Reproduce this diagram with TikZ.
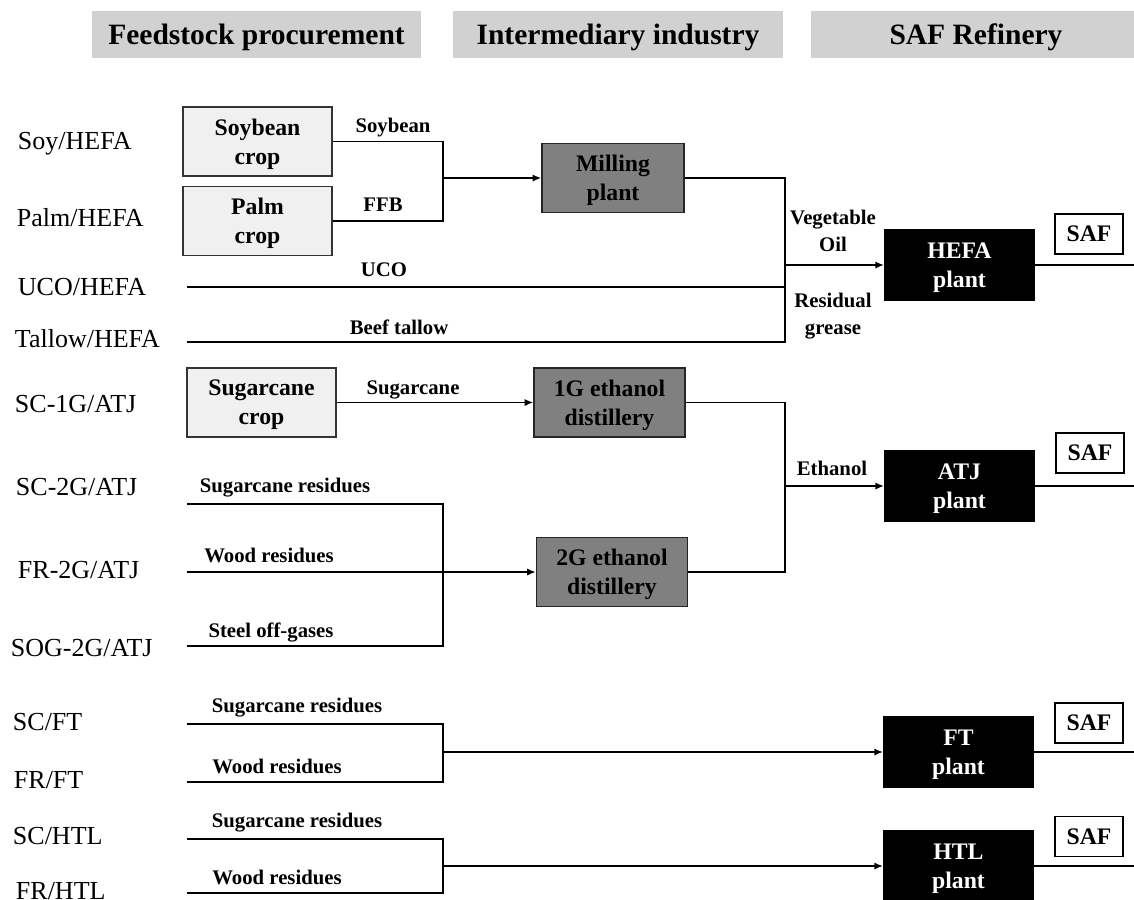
\documentclass[tikz,border=0pt]{standalone}
\usepackage{fontspec}
\setmainfont{Liberation Serif}
\definecolor{hd}{rgb}{0.82,0.82,0.82}
\definecolor{lt}{rgb}{0.94,0.94,0.94}
\definecolor{md}{rgb}{0.5,0.5,0.5}
\usetikzlibrary{positioning,arrows.meta,calc}
\newcommand{\headfont}{\fontsize{16.8}{20}\selectfont\bfseries}
\newcommand{\boxfont}{\fontsize{13.5}{16.5}\selectfont\bfseries}
\newcommand{\flowfont}{\fontsize{11.8}{15.4}\selectfont\bfseries}
\newcommand{\rowfont}{\fontsize{14.8}{17}\selectfont}

\begin{document}
\begin{tikzpicture}[x=0.02cm,y=-0.02cm,>={Latex[length=5pt,width=4.2pt]},line width=1.1pt,
  hdr/.style={fill=hd,minimum width=6.6cm,minimum height=0.94cm,text depth=0pt,font=\headfont},
  cropbox/.style={draw=black!80,line width=0.8pt,fill=lt,minimum width=2.98cm,minimum height=1.38cm,text depth=0pt,align=center,font=\boxfont},
  mids/.style={draw=black!85,line width=0.8pt,fill=md,minimum width=3.02cm,minimum height=1.38cm,text depth=0pt,align=center,font=\boxfont},
  refbox/.style={draw,fill=black,text=white,minimum width=2.98cm,minimum height=1.4cm,text depth=0pt,align=center,font=\boxfont},
  safbox/.style={draw,line width=0.8pt,minimum width=1.36cm,minimum height=0.8cm,font=\boxfont},
  flow/.style={font=\flowfont,align=center,inner sep=0pt,text depth=0pt},
  pathway/.style={anchor=west,inner sep=0pt,font=\rowfont}]
\clip (0,0) rectangle (1134,900);

\node [hdr,minimum width=6.58cm] (hfeed) at (256.5,34.5) {Feedstock procurement};
\node [hdr] (hint) at (618,34.5) {Intermediary industry};
\node [hdr] (hsaf) at (976,34.5) {SAF Refinery};

\node [pathway] (rsoy) at (17,144) {Soy/HEFA};
\node [pathway] (rpalm) at (16,218) {Palm/HEFA};
\node [pathway] (ruco) at (17,287) {UCO/HEFA};
\node [pathway] (rtal) at (14,339) {Tallow/HEFA};
\node [pathway] (rsc1) at (14,404) {SC-1G/ATJ};
\node [pathway] (rsc2) at (15,487) {SC-2G/ATJ};
\node [pathway] (rfr2) at (17,570) {FR-2G/ATJ};
\node [pathway] (rsog) at (10,648) {SOG-2G/ATJ};
\node [pathway] (rscft) at (12,722) {SC/FT};
\node [pathway] (rfrft) at (13,780) {FR/FT};
\node [pathway] (rschtl) at (12,836) {SC/HTL};
\node [pathway] (rfrhtl) at (15,891) {FR/HTL};

\node [cropbox] (soyc) at (257.5,141.5) {Soybean\\crop};
\node [cropbox] (palmc) at (257.5,221) {Palm\\crop};
\node [cropbox] (scc) at (261.5,402.5) {Sugarcane\\crop};

\node [mids,minimum width=2.84cm] (mill) at (613,178) {Milling\\plant};
\node [mids] (dist1) at (609.5,402.5) {1G ethanol\\distillery};
\node [mids] (dist2) at (612,572) {2G ethanol\\distillery};

\node [refbox] (hefa) at (959.5,265) {HEFA\\plant};
\node [refbox] (atj) at (959.5,486) {ATJ\\plant};
\node [refbox] (ft) at (958.5,752) {FT\\plant};
\node [refbox] (htl) at (958.5,866) {HTL\\plant};

\node [safbox] (saf1) at (1089,234) {SAF};
\node [safbox] (saf2) at (1090,453) {SAF};
\node [safbox] (saf3) at (1089,723) {SAF};
\node [safbox] (saf4) at (1089,836.5) {SAF};

\coordinate (uco0) at (187,287);
\coordinate (tal0) at (187,342);
\coordinate (scr0) at (187,504);
\coordinate (wr0) at (187,572);
\coordinate (sog0) at (187,646);
\coordinate (ftsc) at (187,724);
\coordinate (ftwr) at (187,782);
\coordinate (htsc) at (187,839);
\coordinate (htwr) at (187,893);
\coordinate (j1) at (443,178);
\coordinate (j2) at (785,265);
\coordinate (j3) at (785,486);
\coordinate (j4) at (443,572);
\coordinate (j5) at (443,752);
\coordinate (j6) at (443,866);
\coordinate (rim) at (1134,0);

\draw (soyc.east) -| (j1);  \draw (palmc.east) -| (j1);
\draw [->] (j1) -- (mill);
\draw (mill.east) -| (j2);
\draw (uco0) -- (uco0 -| j2);
\draw (tal0) -| (j2);
\draw [->] (j2) -- (hefa);
\draw [->] (scc) -- (dist1);
\draw (scr0) -| (j4);  \draw (sog0) -| (j4);
\draw [->] (wr0) -- (dist2);
\draw (dist1.east) -| (j3);  \draw (dist2.east) -| (j3);
\draw [->] (j3) -- (atj);
\draw (ftsc) -| (j5);  \draw (ftwr) -| (j5);
\draw [->] (j5) -- (ft);
\draw (htsc) -| (j6);  \draw (htwr) -| (j6);
\draw [->] (j6) -- (htl);
\draw (hefa.east) -- (hefa.east -| rim);
\draw (atj.east) -- (atj.east -| rim);
\draw (ft.east) -- (ft.east -| rim);
\draw (htl.east) -- (htl.east -| rim);

\node [flow] (lsoy) at (393,125) {Soybean};
\node [flow] (lffb) at (383,205) {FFB};
\node [flow] (luco) at (384,270) {UCO};
\node [flow] (ltal) at (399,327) {Beef tallow};
\node [flow] (lveg) at (833,231) {Vegetable\\Oil};
\node [flow] (lres) at (833,314) {Residual\\grease};
\node [flow] (lsc) at (413,388) {Sugarcane};
\node [flow] (lscr) at (285,485) {Sugarcane residues};
\node [flow] (lwr) at (269,555) {Wood residues};
\node [flow] (lsog) at (271,630) {Steel off-gases};
\node [flow] (leth) at (832,468) {Ethanol};
\node [flow] (lftsc) at (297,705) {Sugarcane residues};
\node [flow] (lftwr) at (277,766) {Wood residues};
\node [flow] (lhtsc) at (297,820) {Sugarcane residues};
\node [flow] (lhtwr) at (277,877) {Wood residues};
\end{tikzpicture}
\end{document}
